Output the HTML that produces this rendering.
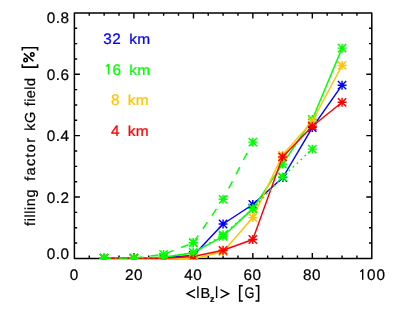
<!DOCTYPE html>
<html><head><meta charset="utf-8"><title>plot</title>
<style>html,body{margin:0;padding:0;background:#fff;}body{width:393px;height:314px;position:relative;overflow:hidden;font-family:"Liberation Sans",sans-serif;}</style>
</head><body>
<svg width="393" height="314" viewBox="0 0 393 314" style="position:absolute;left:0;top:0"><rect x="74.4" y="12.9" width="297.4" height="245.49999999999997" fill="none" stroke="#000" stroke-width="1.5" stroke-linejoin="round"/><path d="M89.27 258.4V255.59999999999997M89.27 12.9V15.7M104.14 258.4V255.59999999999997M104.14 12.9V15.7M119.01 258.4V255.59999999999997M119.01 12.9V15.7M133.88 258.4V252.89999999999998M133.88 12.9V18.4M148.75 258.4V255.59999999999997M148.75 12.9V15.7M163.62 258.4V255.59999999999997M163.62 12.9V15.7M178.49 258.4V255.59999999999997M178.49 12.9V15.7M193.36 258.4V252.89999999999998M193.36 12.9V18.4M208.23 258.4V255.59999999999997M208.23 12.9V15.7M223.10 258.4V255.59999999999997M223.10 12.9V15.7M237.97 258.4V255.59999999999997M237.97 12.9V15.7M252.84 258.4V252.89999999999998M252.84 12.9V18.4M267.71 258.4V255.59999999999997M267.71 12.9V15.7M282.58 258.4V255.59999999999997M282.58 12.9V15.7M297.45 258.4V255.59999999999997M297.45 12.9V15.7M312.32 258.4V252.89999999999998M312.32 12.9V18.4M327.19 258.4V255.59999999999997M327.19 12.9V15.7M342.06 258.4V255.59999999999997M342.06 12.9V15.7M356.93 258.4V255.59999999999997M356.93 12.9V15.7M74.4 243.06H77.2M371.8 243.06H369.0M74.4 227.71H77.2M371.8 227.71H369.0M74.4 212.37H77.2M371.8 212.37H369.0M74.4 197.02H79.9M371.8 197.02H366.3M74.4 181.68H77.2M371.8 181.68H369.0M74.4 166.34H77.2M371.8 166.34H369.0M74.4 150.99H77.2M371.8 150.99H369.0M74.4 135.65H79.9M371.8 135.65H366.3M74.4 120.31H77.2M371.8 120.31H369.0M74.4 104.96H77.2M371.8 104.96H369.0M74.4 89.62H77.2M371.8 89.62H369.0M74.4 74.27H79.9M371.8 74.27H366.3M74.4 58.93H77.2M371.8 58.93H369.0M74.4 43.59H77.2M371.8 43.59H369.0M74.4 28.24H77.2M371.8 28.24H369.0" stroke="#000" stroke-width="1.4" fill="none"/><defs><clipPath id="c"><rect x="74.4" y="12.9" width="297.4" height="246.39999999999995"/></clipPath></defs><g clip-path="url(#c)"><polyline points="104.05,258.10 133.80,258.10 163.55,257.70 193.30,255.40 223.05,224.00 252.80,204.50 282.85,177.50 312.30,127.60 342.05,85.20" fill="none" stroke="#0000ff" stroke-width="1.45" stroke-linejoin="round"/><path d="M99.60 258.10H108.50M104.05 253.65V262.55M99.90 253.95L108.20 262.25M99.90 262.25L108.20 253.95" stroke="#0000ff" stroke-width="1.45" fill="none"/><path d="M129.35 258.10H138.25M133.80 253.65V262.55M129.65 253.95L137.95 262.25M129.65 262.25L137.95 253.95" stroke="#0000ff" stroke-width="1.45" fill="none"/><path d="M159.10 257.70H168.00M163.55 253.25V262.15M159.40 253.55L167.70 261.85M159.40 261.85L167.70 253.55" stroke="#0000ff" stroke-width="1.45" fill="none"/><path d="M188.85 255.40H197.75M193.30 250.95V259.85M189.15 251.25L197.45 259.55M189.15 259.55L197.45 251.25" stroke="#0000ff" stroke-width="1.45" fill="none"/><path d="M218.60 224.00H227.50M223.05 219.55V228.45M218.90 219.85L227.20 228.15M218.90 228.15L227.20 219.85" stroke="#0000ff" stroke-width="1.45" fill="none"/><path d="M248.35 204.50H257.25M252.80 200.05V208.95M248.65 200.35L256.95 208.65M248.65 208.65L256.95 200.35" stroke="#0000ff" stroke-width="1.45" fill="none"/><path d="M278.40 177.50H287.30M282.85 173.05V181.95M278.70 173.35L287.00 181.65M278.70 181.65L287.00 173.35" stroke="#0000ff" stroke-width="1.45" fill="none"/><path d="M307.85 127.60H316.75M312.30 123.15V132.05M308.15 123.45L316.45 131.75M308.15 131.75L316.45 123.45" stroke="#0000ff" stroke-width="1.45" fill="none"/><path d="M337.60 85.20H346.50M342.05 80.75V89.65M337.90 81.05L346.20 89.35M337.90 89.35L346.20 81.05" stroke="#0000ff" stroke-width="1.45" fill="none"/><polyline points="104.05,258.10 133.80,258.10 163.55,257.30 193.30,252.70 223.05,236.30 252.80,208.60 282.55,164.10 312.30,119.50 342.05,48.10" fill="none" stroke="#00ff00" stroke-width="1.45" stroke-linejoin="round"/><path d="M99.60 258.10H108.50M104.05 253.65V262.55M99.90 253.95L108.20 262.25M99.90 262.25L108.20 253.95" stroke="#00ff00" stroke-width="1.45" fill="none"/><path d="M129.35 258.10H138.25M133.80 253.65V262.55M129.65 253.95L137.95 262.25M129.65 262.25L137.95 253.95" stroke="#00ff00" stroke-width="1.45" fill="none"/><path d="M159.10 257.30H168.00M163.55 252.85V261.75M159.40 253.15L167.70 261.45M159.40 261.45L167.70 253.15" stroke="#00ff00" stroke-width="1.45" fill="none"/><path d="M188.85 252.70H197.75M193.30 248.25V257.15M189.15 248.55L197.45 256.85M189.15 256.85L197.45 248.55" stroke="#00ff00" stroke-width="1.45" fill="none"/><path d="M218.60 236.30H227.50M223.05 231.85V240.75M218.90 232.15L227.20 240.45M218.90 240.45L227.20 232.15" stroke="#00ff00" stroke-width="1.45" fill="none"/><path d="M248.35 208.60H257.25M252.80 204.15V213.05M248.65 204.45L256.95 212.75M248.65 212.75L256.95 204.45" stroke="#00ff00" stroke-width="1.45" fill="none"/><path d="M278.10 164.10H287.00M282.55 159.65V168.55M278.40 159.95L286.70 168.25M278.40 168.25L286.70 159.95" stroke="#00ff00" stroke-width="1.45" fill="none"/><path d="M307.85 119.50H316.75M312.30 115.05V123.95M308.15 115.35L316.45 123.65M308.15 123.65L316.45 115.35" stroke="#00ff00" stroke-width="1.45" fill="none"/><path d="M337.60 48.10H346.50M342.05 43.65V52.55M337.90 43.95L346.20 52.25M337.90 52.25L346.20 43.95" stroke="#00ff00" stroke-width="1.45" fill="none"/><polyline points="104.05,258.40 133.80,258.40 163.55,258.40 193.30,258.70 223.05,251.70 252.80,217.60 282.55,155.10 312.30,121.50 342.05,65.40" fill="none" stroke="#ffc400" stroke-width="1.45" stroke-linejoin="round"/><path d="M99.60 258.40H108.50M104.05 253.95V262.85M99.90 254.25L108.20 262.55M99.90 262.55L108.20 254.25" stroke="#ffc400" stroke-width="1.45" fill="none"/><path d="M129.35 258.40H138.25M133.80 253.95V262.85M129.65 254.25L137.95 262.55M129.65 262.55L137.95 254.25" stroke="#ffc400" stroke-width="1.45" fill="none"/><path d="M159.10 258.40H168.00M163.55 253.95V262.85M159.40 254.25L167.70 262.55M159.40 262.55L167.70 254.25" stroke="#ffc400" stroke-width="1.45" fill="none"/><path d="M188.85 258.70H197.75M193.30 254.25V263.15M189.15 254.55L197.45 262.85M189.15 262.85L197.45 254.55" stroke="#ffc400" stroke-width="1.45" fill="none"/><path d="M218.60 251.70H227.50M223.05 247.25V256.15M218.90 247.55L227.20 255.85M218.90 255.85L227.20 247.55" stroke="#ffc400" stroke-width="1.45" fill="none"/><path d="M248.35 217.60H257.25M252.80 213.15V222.05M248.65 213.45L256.95 221.75M248.65 221.75L256.95 213.45" stroke="#ffc400" stroke-width="1.45" fill="none"/><path d="M278.10 155.10H287.00M282.55 150.65V159.55M278.40 150.95L286.70 159.25M278.40 159.25L286.70 150.95" stroke="#ffc400" stroke-width="1.45" fill="none"/><path d="M307.85 121.50H316.75M312.30 117.05V125.95M308.15 117.35L316.45 125.65M308.15 125.65L316.45 117.35" stroke="#ffc400" stroke-width="1.45" fill="none"/><path d="M337.60 65.40H346.50M342.05 60.95V69.85M337.90 61.25L346.20 69.55M337.90 69.55L346.20 61.25" stroke="#ffc400" stroke-width="1.45" fill="none"/><polyline points="104.05,258.30 133.80,258.30 163.55,258.30 193.30,256.50 223.05,250.30 252.80,239.50 282.55,156.90 312.30,126.20 342.05,102.30" fill="none" stroke="#ff0000" stroke-width="1.45" stroke-linejoin="round"/><path d="M99.60 258.30H108.50M104.05 253.85V262.75M99.90 254.15L108.20 262.45M99.90 262.45L108.20 254.15" stroke="#ff0000" stroke-width="1.45" fill="none"/><path d="M129.35 258.30H138.25M133.80 253.85V262.75M129.65 254.15L137.95 262.45M129.65 262.45L137.95 254.15" stroke="#ff0000" stroke-width="1.45" fill="none"/><path d="M159.10 258.30H168.00M163.55 253.85V262.75M159.40 254.15L167.70 262.45M159.40 262.45L167.70 254.15" stroke="#ff0000" stroke-width="1.45" fill="none"/><path d="M188.85 256.50H197.75M193.30 252.05V260.95M189.15 252.35L197.45 260.65M189.15 260.65L197.45 252.35" stroke="#ff0000" stroke-width="1.45" fill="none"/><path d="M218.60 250.30H227.50M223.05 245.85V254.75M218.90 246.15L227.20 254.45M218.90 254.45L227.20 246.15" stroke="#ff0000" stroke-width="1.45" fill="none"/><path d="M248.35 239.50H257.25M252.80 235.05V243.95M248.65 235.35L256.95 243.65M248.65 243.65L256.95 235.35" stroke="#ff0000" stroke-width="1.45" fill="none"/><path d="M278.10 156.90H287.00M282.55 152.45V161.35M278.40 152.75L286.70 161.05M278.40 161.05L286.70 152.75" stroke="#ff0000" stroke-width="1.45" fill="none"/><path d="M307.85 126.20H316.75M312.30 121.75V130.65M308.15 122.05L316.45 130.35M308.15 130.35L316.45 122.05" stroke="#ff0000" stroke-width="1.45" fill="none"/><path d="M337.60 102.30H346.50M342.05 97.85V106.75M337.90 98.15L346.20 106.45M337.90 106.45L346.20 98.15" stroke="#ff0000" stroke-width="1.45" fill="none"/><polyline points="104.05,258.10 133.80,258.10 163.55,254.40 193.30,242.70" fill="none" stroke="#00ff00" stroke-width="1.45" stroke-linejoin="round" stroke-dasharray="8 8" stroke-dashoffset="1.4"/><path d="M99.60 258.10H108.50M104.05 253.65V262.55M99.90 253.95L108.20 262.25M99.90 262.25L108.20 253.95" stroke="#00ff00" stroke-width="1.45" fill="none"/><path d="M129.35 258.10H138.25M133.80 253.65V262.55M129.65 253.95L137.95 262.25M129.65 262.25L137.95 253.95" stroke="#00ff00" stroke-width="1.45" fill="none"/><path d="M159.10 254.40H168.00M163.55 249.95V258.85M159.40 250.25L167.70 258.55M159.40 258.55L167.70 250.25" stroke="#00ff00" stroke-width="1.45" fill="none"/><path d="M188.85 242.70H197.75M193.30 238.25V247.15M189.15 238.55L197.45 246.85M189.15 246.85L197.45 238.55" stroke="#00ff00" stroke-width="1.45" fill="none"/><polyline points="193.30,242.70 223.05,199.30 252.80,142.10" fill="none" stroke="#00ff00" stroke-width="1.45" stroke-linejoin="round" stroke-dasharray="8 8" stroke-dashoffset="15.1"/><path d="M188.85 242.70H197.75M193.30 238.25V247.15M189.15 238.55L197.45 246.85M189.15 246.85L197.45 238.55" stroke="#00ff00" stroke-width="1.45" fill="none"/><path d="M218.60 199.30H227.50M223.05 194.85V203.75M218.90 195.15L227.20 203.45M218.90 203.45L227.20 195.15" stroke="#00ff00" stroke-width="1.45" fill="none"/><path d="M248.35 142.10H257.25M252.80 137.65V146.55M248.65 137.95L256.95 146.25M248.65 146.25L256.95 137.95" stroke="#00ff00" stroke-width="1.45" fill="none"/><polyline points="104.05,258.10 133.80,258.10 163.55,257.30 193.30,252.70 223.05,234.80 252.80,208.60 282.55,176.90 312.30,149.10" fill="none" stroke="#00ff00" stroke-width="1.45" stroke-linejoin="round" stroke-dasharray="1.8 3.6" stroke-dashoffset="0"/><path d="M99.60 258.10H108.50M104.05 253.65V262.55M99.90 253.95L108.20 262.25M99.90 262.25L108.20 253.95" stroke="#00ff00" stroke-width="1.45" fill="none"/><path d="M129.35 258.10H138.25M133.80 253.65V262.55M129.65 253.95L137.95 262.25M129.65 262.25L137.95 253.95" stroke="#00ff00" stroke-width="1.45" fill="none"/><path d="M159.10 257.30H168.00M163.55 252.85V261.75M159.40 253.15L167.70 261.45M159.40 261.45L167.70 253.15" stroke="#00ff00" stroke-width="1.45" fill="none"/><path d="M188.85 252.70H197.75M193.30 248.25V257.15M189.15 248.55L197.45 256.85M189.15 256.85L197.45 248.55" stroke="#00ff00" stroke-width="1.45" fill="none"/><path d="M218.60 234.80H227.50M223.05 230.35V239.25M218.90 230.65L227.20 238.95M218.90 238.95L227.20 230.65" stroke="#00ff00" stroke-width="1.45" fill="none"/><path d="M248.35 208.60H257.25M252.80 204.15V213.05M248.65 204.45L256.95 212.75M248.65 212.75L256.95 204.45" stroke="#00ff00" stroke-width="1.45" fill="none"/><path d="M278.10 176.90H287.00M282.55 172.45V181.35M278.40 172.75L286.70 181.05M278.40 181.05L286.70 172.75" stroke="#00ff00" stroke-width="1.45" fill="none"/><path d="M307.85 149.10H316.75M312.30 144.65V153.55M308.15 144.95L316.45 153.25M308.15 153.25L316.45 144.95" stroke="#00ff00" stroke-width="1.45" fill="none"/></g><g id="txt" opacity="0.999"><text x="69.6" y="23.3" text-anchor="end" fill="#000" stroke="#000" stroke-width="0.24" style="font-family:'Liberation Sans',sans-serif;font-size:14.5px;text-rendering:geometricPrecision;font-size:15.3px;letter-spacing:0.5px;">0.8</text><text x="69.6" y="79.8" text-anchor="end" fill="#000" stroke="#000" stroke-width="0.24" style="font-family:'Liberation Sans',sans-serif;font-size:14.5px;text-rendering:geometricPrecision;font-size:15.3px;letter-spacing:0.5px;">0.6</text><text x="69.6" y="141.3" text-anchor="end" fill="#000" stroke="#000" stroke-width="0.24" style="font-family:'Liberation Sans',sans-serif;font-size:14.5px;text-rendering:geometricPrecision;font-size:15.3px;letter-spacing:0.5px;">0.4</text><text x="69.6" y="203.2" text-anchor="end" fill="#000" stroke="#000" stroke-width="0.24" style="font-family:'Liberation Sans',sans-serif;font-size:14.5px;text-rendering:geometricPrecision;font-size:15.3px;letter-spacing:0.5px;">0.2</text><text x="69.6" y="258.8" text-anchor="end" fill="#000" stroke="#000" stroke-width="0.24" style="font-family:'Liberation Sans',sans-serif;font-size:14.5px;text-rendering:geometricPrecision;font-size:15.3px;letter-spacing:0.5px;">0.0</text><g transform="translate(74.0,279.8) scale(1.0,1)"><text x="0.25" y="0" text-anchor="middle" fill="#000" stroke="#000" stroke-width="0.24" style="font-family:'Liberation Sans',sans-serif;font-size:14.5px;text-rendering:geometricPrecision;font-size:15.3px;letter-spacing:0.5px;">0</text></g><g transform="translate(133.8,279.8) scale(1.0,1)"><text x="0.25" y="0" text-anchor="middle" fill="#000" stroke="#000" stroke-width="0.24" style="font-family:'Liberation Sans',sans-serif;font-size:14.5px;text-rendering:geometricPrecision;font-size:15.3px;letter-spacing:0.5px;">20</text></g><g transform="translate(192.9,279.8) scale(1.0,1)"><text x="0.25" y="0" text-anchor="middle" fill="#000" stroke="#000" stroke-width="0.24" style="font-family:'Liberation Sans',sans-serif;font-size:14.5px;text-rendering:geometricPrecision;font-size:15.3px;letter-spacing:0.5px;">40</text></g><g transform="translate(252.3,279.8) scale(1.0,1)"><text x="0.25" y="0" text-anchor="middle" fill="#000" stroke="#000" stroke-width="0.24" style="font-family:'Liberation Sans',sans-serif;font-size:14.5px;text-rendering:geometricPrecision;font-size:15.3px;letter-spacing:0.5px;">60</text></g><g transform="translate(311.85,279.8) scale(1.0,1)"><text x="0.25" y="0" text-anchor="middle" fill="#000" stroke="#000" stroke-width="0.24" style="font-family:'Liberation Sans',sans-serif;font-size:14.5px;text-rendering:geometricPrecision;font-size:15.3px;letter-spacing:0.5px;">80</text></g><text x="385.9" y="279.8" text-anchor="end" fill="#000" stroke="#000" stroke-width="0.24" style="font-family:'Liberation Sans',sans-serif;font-size:14.5px;text-rendering:geometricPrecision;font-size:15.3px;letter-spacing:0.9px;">00</text><path d="M360.30 271.80L362.70 269.70V279.80" fill="none" stroke="#000" stroke-width="1.4" stroke-linejoin="round"/><text x="121.2" y="43.8" text-anchor="end" fill="#0000ff" stroke="#0000ff" stroke-width="0.24" style="font-family:'Liberation Sans',sans-serif;font-size:14.5px;text-rendering:geometricPrecision;font-size:15.3px;letter-spacing:0.4px;">32</text><g transform="translate(129.2,43.8) scale(1.065,1)"><text x="0" y="0" text-anchor="start" fill="#0000ff" stroke="#0000ff" stroke-width="0.24" style="font-family:'Liberation Sans',sans-serif;font-size:14.5px;text-rendering:geometricPrecision;letter-spacing:0.3px;">km</text></g><text x="121.5" y="74.5" text-anchor="end" fill="#00ff00" stroke="#00ff00" stroke-width="0.24" style="font-family:'Liberation Sans',sans-serif;font-size:14.5px;text-rendering:geometricPrecision;font-size:15.3px;letter-spacing:0.4px;">6</text><path d="M106.10 66.50L108.50 64.40V74.50" fill="none" stroke="#00ff00" stroke-width="1.4" stroke-linejoin="round"/><g transform="translate(129.2,74.5) scale(1.065,1)"><text x="0" y="0" text-anchor="start" fill="#00ff00" stroke="#00ff00" stroke-width="0.24" style="font-family:'Liberation Sans',sans-serif;font-size:14.5px;text-rendering:geometricPrecision;letter-spacing:0.3px;">km</text></g><text x="119.9" y="105.2" text-anchor="end" fill="#ffc400" stroke="#ffc400" stroke-width="0.24" style="font-family:'Liberation Sans',sans-serif;font-size:14.5px;text-rendering:geometricPrecision;font-size:15.3px;letter-spacing:0.4px;">8</text><g transform="translate(127.8,105.2) scale(1.065,1)"><text x="0" y="0" text-anchor="start" fill="#ffc400" stroke="#ffc400" stroke-width="0.24" style="font-family:'Liberation Sans',sans-serif;font-size:14.5px;text-rendering:geometricPrecision;letter-spacing:0.3px;">km</text></g><text x="119.9" y="135.9" text-anchor="end" fill="#ff0000" stroke="#ff0000" stroke-width="0.24" style="font-family:'Liberation Sans',sans-serif;font-size:14.5px;text-rendering:geometricPrecision;font-size:15.3px;letter-spacing:0.4px;">4</text><g transform="translate(127.8,135.9) scale(1.065,1)"><text x="0" y="0" text-anchor="start" fill="#ff0000" stroke="#ff0000" stroke-width="0.24" style="font-family:'Liberation Sans',sans-serif;font-size:14.5px;text-rendering:geometricPrecision;letter-spacing:0.3px;">km</text></g><g transform="translate(34.5,225.9) rotate(-90)"><text x="0" y="0" text-anchor="start" fill="#000" stroke="#000" stroke-width="0.24" style="font-family:'Liberation Sans',sans-serif;font-size:14.5px;text-rendering:geometricPrecision;letter-spacing:0.55px;">filling</text><text x="45.2" y="0" text-anchor="start" fill="#000" stroke="#000" stroke-width="0.24" style="font-family:'Liberation Sans',sans-serif;font-size:14.5px;text-rendering:geometricPrecision;letter-spacing:1.3px;">factor</text><text x="95.2" y="0" text-anchor="start" fill="#000" stroke="#000" stroke-width="0.24" style="font-family:'Liberation Sans',sans-serif;font-size:14.5px;text-rendering:geometricPrecision;letter-spacing:0.5px;">kG</text><text x="119.7" y="0" text-anchor="start" fill="#000" stroke="#000" stroke-width="0.24" style="font-family:'Liberation Sans',sans-serif;font-size:14.5px;text-rendering:geometricPrecision;letter-spacing:0.4px;">field</text><path d="M161.7 -12.2H158.8V3.1H161.7" fill="none" stroke="#000" stroke-width="1.6"/><g fill="none" stroke="#000" stroke-width="1.6"><circle cx="165.9" cy="-8.9" r="1.7"/><circle cx="171.4" cy="-2.2" r="1.7"/><path d="M164.7 -1.1L172.5 -10.6"/></g><path d="M175.3 -12.2H178.2V3.1H175.3" fill="none" stroke="#000" stroke-width="1.6"/></g><text x="200.6" y="298" text-anchor="start" fill="#000" stroke="#000" stroke-width="0.24" style="font-family:'Liberation Sans',sans-serif;font-size:14.5px;text-rendering:geometricPrecision;">B</text><text x="244.5" y="297.9" textLength="9.9" lengthAdjust="spacingAndGlyphs" fill="#000" stroke="#000" stroke-width="0.24" style="font-family:'Liberation Sans',sans-serif;font-size:14.5px;text-rendering:geometricPrecision;font-size:15.4px;">G</text><path d="M195.1 289.7L187.0 293.75L195.1 297.8M220.5 289.7L228.6 293.75L220.5 297.8M197.9 286.2V297.9M216.6 286.2V297.9" fill="none" stroke="#000" stroke-width="1.4"/><text x="210.0" y="301.7" text-anchor="start" fill="#000" stroke="#000" stroke-width="0.24" style="font-family:'Liberation Sans',sans-serif;font-size:14.5px;text-rendering:geometricPrecision;font-size:8.8px;font-weight:bold;">z</text><path d="M242.8 285.7H239.70000000000002V301.0H242.8" fill="none" stroke="#000" stroke-width="1.6"/><path d="M255.5 285.7H258.59999999999997V301.0H255.5" fill="none" stroke="#000" stroke-width="1.6"/></g></svg>
</body></html>
